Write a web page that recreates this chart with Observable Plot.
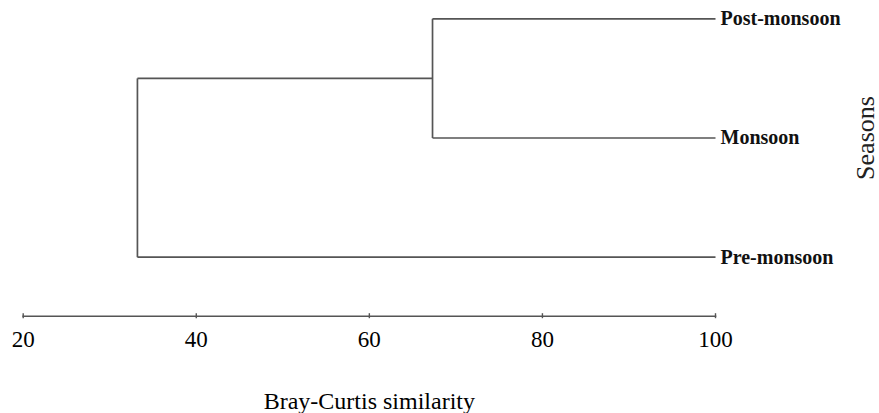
<!DOCTYPE html>
<html>
<head>
<meta charset="utf-8">
<script src="https://cdn.jsdelivr.net/npm/d3@7"></script>
<script src="https://cdn.jsdelivr.net/npm/@observablehq/plot@0.6"></script>
<style>
  html, body { margin: 0; padding: 0; background: #fff; }
  #chart svg { display: block; }
</style>
</head>
<body>
<div id="chart"></div>
<script>
// Leaves (top to bottom) and their similarity (100 = identical)
const leaves = ["Post-monsoon", "Monsoon", "Pre-monsoon"];
const leafSimilarity = [100, 100, 100];
// Clusters: name, two children, Bray-Curtis similarity at which they join
const clusterNames = ["A", "Root"];
const clusterChildA = ["Post-monsoon", "A"];
const clusterChildB = ["Monsoon", "Pre-monsoon"];
const clusterSimilarity = [67.3, 33.2];
const xTicks = [20, 40, 60, 80, 100];
const xTitle = "Bray-Curtis similarity";
const yTitle = "Seasons";

// Build node positions
const nodes = new Map();
leaves.forEach((name, i) => nodes.set(name, {x: leafSimilarity[i], y: i}));
clusterNames.forEach((name, i) => {
  const a = nodes.get(clusterChildA[i]), b = nodes.get(clusterChildB[i]);
  nodes.set(name, {x: clusterSimilarity[i], y: (a.y + b.y) / 2});
});
const segments = [];
clusterNames.forEach((name, i) => {
  const p = nodes.get(name);
  const a = nodes.get(clusterChildA[i]), b = nodes.get(clusterChildB[i]);
  segments.push({x1: a.x, y1: a.y, x2: p.x, y2: a.y});
  segments.push({x1: b.x, y1: b.y, x2: p.x, y2: b.y});
  segments.push({x1: p.x, y1: a.y, x2: p.x, y2: b.y});
});
const leafData = leaves.map((name, i) => ({name, x: leafSimilarity[i], y: i}));
const yTitleData = [{text: yTitle, y: (leaves.length - 1) / 2}];

const lineColor = "#555";

const chart = Plot.plot({
  width: 879,
  height: 413,
  marginLeft: 22.7,
  marginRight: 164,
  marginTop: 18,
  marginBottom: 97.3,
  style: {fontFamily: "'Liberation Serif', 'Times New Roman', serif", background: "#fff", color: "#000"},
  x: {domain: [20, 100]},
  y: {domain: [0, 2], range: [18.3, 256.7], axis: null},
  marks: [
    Plot.frame({anchor: "bottom", stroke: lineColor, strokeWidth: 1.6}),
    Plot.axisX({ticks: xTicks, tickSize: 5, dy: -2.5, tickPadding: 11.5, fontSize: 23, stroke: lineColor, strokeWidth: 1.4, label: null}),
    Plot.axisX({ticks: [], tickSize: 0, label: xTitle, labelAnchor: "center", labelArrow: "none", labelOffset: 92.5, fontSize: 24}),
    Plot.text(yTitleData, {y: "y", text: "text", frameAnchor: "right", textAnchor: "middle", lineAnchor: "middle", rotate: -90, dx: 150, fontSize: 26, fill: "#222"}),
    Plot.link(segments, {x1: "x1", y1: "y1", x2: "x2", y2: "y2", stroke: lineColor, strokeWidth: 1.7}),
    Plot.text(leafData, {x: "x", y: "y", text: "name", textAnchor: "start", lineAnchor: "middle", dx: 5, fontSize: 20, fontWeight: "bold", fill: "#111"})
  ]
});
document.getElementById("chart").appendChild(chart);
</script>
</body>
</html>
